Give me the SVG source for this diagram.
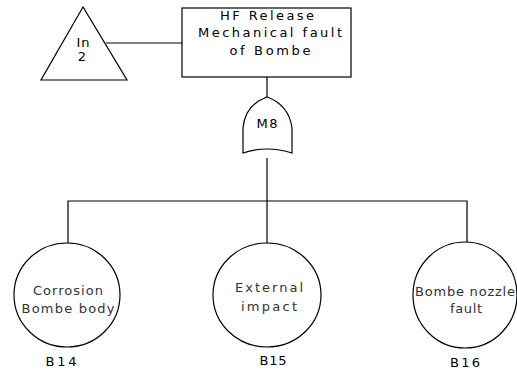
<svg xmlns="http://www.w3.org/2000/svg" width="517" height="372" viewBox="0 0 517 372">
<style>
.s{fill:#fff;stroke:#000;stroke-width:1.2}
.c{fill:none;stroke:#000;stroke-width:1.2}
text{font-family:"DejaVu Sans","Liberation Sans",sans-serif;font-size:13px;fill:#000;text-anchor:middle}
.g{fill:#333}
</style>
<rect width="517" height="372" fill="#fff"/>
<g id="connectors">
<line class="c" x1="106" y1="43" x2="182" y2="43"/>
<line class="c" x1="267" y1="77" x2="267" y2="97"/>
<line class="c" x1="267" y1="158" x2="267" y2="201"/>
<polyline class="c" points="68,243 68,201 467,201 467,243"/>
<line class="c" x1="267" y1="201" x2="267" y2="243"/>
</g>
<g id="in2">
<polygon class="s" points="83,7 41,80 127,80"/>
<text x="83" y="47" textLength="13" lengthAdjust="spacing">In</text>
<text x="82" y="61">2</text>
</g>
<g id="top">
<rect class="s" x="182" y="8" width="169" height="69"/>
<text x="267" y="20" textLength="94" lengthAdjust="spacing">HF Release</text>
<text x="270" y="37" textLength="144" lengthAdjust="spacing">Mechanical fault</text>
<text x="270" y="55" textLength="81" lengthAdjust="spacing">of Bombe</text>
</g>
<g id="M8">
<path class="s" d="M243,153 L243,128 Q245,105 267,97 Q289,105 292,128 L292,153 Q267,145 243,153 Z"/>
<text x="267" y="128" textLength="21" lengthAdjust="spacing">M8</text>
</g>
<g id="B14">
<ellipse class="s" cx="67" cy="295" rx="53" ry="52"/>
<text class="g" x="68" y="295" textLength="70" lengthAdjust="spacing">Corrosion</text>
<text class="g" x="68" y="313" textLength="93" lengthAdjust="spacing">Bombe body</text>
<text x="61" y="366" textLength="31" lengthAdjust="spacing">B14</text>
</g>
<g id="B15">
<ellipse class="s" cx="267" cy="295" rx="54" ry="52"/>
<text class="g" x="269" y="292" textLength="68" lengthAdjust="spacing">External</text>
<text class="g" x="269" y="311" textLength="56" lengthAdjust="spacing">impact</text>
<text x="273" y="365" textLength="27" lengthAdjust="spacing">B15</text>
</g>
<g id="B16">
<ellipse class="s" cx="465" cy="295" rx="52" ry="53"/>
<text class="g" x="465" y="296" textLength="100" lengthAdjust="spacing">Bombe nozzle</text>
<text class="g" x="466" y="313" textLength="32" lengthAdjust="spacing">fault</text>
<text x="465" y="367" textLength="30" lengthAdjust="spacing">B16</text>
</g>
</svg>
